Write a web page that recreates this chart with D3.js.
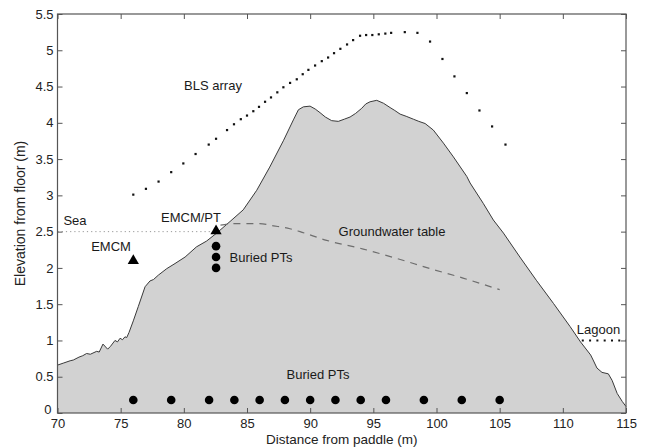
<!DOCTYPE html>
<html>
<head>
<meta charset="utf-8">
<script src="https://cdn.jsdelivr.net/npm/d3@7"></script>
<style>
  html, body { margin: 0; padding: 0; background: #fff; }
  svg { display: block; font-family: "Liberation Sans", Arial, sans-serif; }
</style>
</head>
<body>
<svg id="chart" width="646" height="447"></svg>
<script>
// Beach profile (distance from paddle, elevation from floor)
const profileX = [70, 70.5, 71, 71.25, 71.7, 72, 72.3, 72.6, 73.1, 73.3, 73.6, 73.97, 74.2, 74.55, 74.75, 74.95, 75.15, 75.34, 75.48, 75.66, 76.0, 76.4, 76.93, 77.32, 77.6, 77.98, 78.65, 79.3, 80.1, 81.0, 81.8, 82.6, 83.66, 84.7, 85.77, 86.8, 87.9, 88.67, 89.07, 89.46, 89.99, 90.4, 90.78, 91.2, 91.7, 92.23, 92.7, 93.16, 93.6, 94.08, 94.4, 94.74, 95.27, 95.8, 96.33, 96.7, 97.12, 97.6, 98.17, 98.6, 99.1, 99.75, 100.55, 101.34, 102.4, 102.66, 103.7, 104.5, 105.3, 106.6, 107.9, 109.26, 110.58, 111.4, 112.2, 112.4, 112.7, 113.1, 113.6, 113.9, 114.3, 114.7, 115];
const profileY = [0.66, 0.69, 0.72, 0.73, 0.77, 0.79, 0.82, 0.81, 0.85, 0.84, 0.95, 0.88, 0.92, 1.0, 0.98, 1.03, 1.01, 1.05, 1.04, 1.11, 1.27, 1.47, 1.74, 1.82, 1.84, 1.90, 1.99, 2.06, 2.15, 2.29, 2.37, 2.48, 2.64, 2.80, 3.07, 3.39, 3.76, 4.04, 4.18, 4.22, 4.23, 4.19, 4.14, 4.08, 4.03, 4.02, 4.05, 4.08, 4.13, 4.20, 4.26, 4.29, 4.31, 4.27, 4.21, 4.17, 4.12, 4.09, 4.05, 4.02, 3.99, 3.90, 3.72, 3.53, 3.26, 3.17, 2.89, 2.66, 2.48, 2.15, 1.83, 1.51, 1.19, 0.98, 0.80, 0.73, 0.62, 0.56, 0.54, 0.45, 0.27, 0.16, 0.09];

// BLS array sensor positions
const blsX = [76.0, 77.0, 78.0, 79.0, 79.96, 80.93, 81.97, 82.55, 83.42, 83.97, 84.51, 85.0, 85.5, 85.95, 86.43, 86.9, 87.4, 87.88, 88.41, 88.94, 89.41, 89.86, 90.39, 90.92, 91.42, 91.89, 92.39, 92.92, 93.4, 93.95, 94.43, 94.92, 95.43, 95.95, 96.41, 97.49, 98.49, 99.49, 100.47, 101.42, 102.4, 103.4, 104.4, 105.46];
const blsY = [3.01, 3.09, 3.19, 3.32, 3.44, 3.57, 3.70, 3.78, 3.90, 3.98, 4.05, 4.10, 4.16, 4.22, 4.29, 4.35, 4.42, 4.49, 4.55, 4.60, 4.67, 4.73, 4.79, 4.85, 4.90, 4.96, 5.02, 5.08, 5.14, 5.20, 5.21, 5.21, 5.22, 5.23, 5.24, 5.25, 5.24, 5.12, 4.88, 4.64, 4.41, 4.17, 3.95, 3.70];

// Groundwater table
const gwX = [82.9, 83.9, 85.0, 86.0, 87.1, 88.4, 89.2, 91.3, 94.2, 96.86, 99.5, 102.1, 105.0];
const gwY = [2.59, 2.61, 2.61, 2.61, 2.58, 2.54, 2.50, 2.38, 2.26, 2.13, 1.99, 1.86, 1.70];

// Instruments
const emcmX = [76.0, 82.55];
const emcmY = [2.10, 2.51];
const ptStackX = 82.55;
const ptStackY = [2.30, 2.15, 2.00];
const ptBottomX = [76, 79, 82, 84, 86, 88, 90, 92, 94, 96, 99, 102, 105];
const ptBottomY = 0.18;

// Water levels
const seaLevel = 2.5, seaFrom = 70, seaTo = 82.3;
const lagoonLevel = 1.0, lagoonFrom = 111.5, lagoonTo = 115;

// Axis ticks
const xTicks = [70, 75, 80, 85, 90, 95, 100, 105, 110, 115];
const yTicks = [0, 0.5, 1, 1.5, 2, 2.5, 3, 3.5, 4, 4.5, 5, 5.5];

const svg = d3.select("#chart");
const plotLeft = 57.5, plotRight = 626, plotTop = 14, plotBottom = 413;
const x = d3.scaleLinear().domain([70, 115]).range([plotLeft, plotRight]);
const y = d3.scaleLinear().domain([0, 5.5]).range([plotBottom, plotTop]);

const profile = profileX.map((d, i) => [d, profileY[i]]);

// Shaded beach body
svg.append("path")
  .datum(profile)
  .attr("d", d3.area().x(d => x(d[0])).y0(y(0)).y1(d => y(d[1])))
  .attr("fill", "#d2d2d2");

svg.append("path")
  .datum(profile)
  .attr("d", d3.line().x(d => x(d[0])).y(d => y(d[1])))
  .attr("fill", "none")
  .attr("stroke", "#3a3a3a")
  .attr("stroke-width", 1);

// Sea level (fine grey dots)
svg.append("line")
  .attr("x1", x(seaFrom)).attr("x2", x(seaTo))
  .attr("y1", y(seaLevel)).attr("y2", y(seaLevel))
  .attr("stroke", "#999").attr("stroke-width", 1)
  .attr("stroke-dasharray", "1.2,3");

// Lagoon level (coarse black dots)
svg.append("line")
  .attr("x1", x(lagoonFrom)).attr("x2", x(lagoonTo))
  .attr("y1", y(lagoonLevel)).attr("y2", y(lagoonLevel))
  .attr("stroke", "#111").attr("stroke-width", 2)
  .attr("stroke-dasharray", "2,5.3");

// Groundwater table (dashed)
svg.append("path")
  .datum(gwX.map((d, i) => [d, gwY[i]]))
  .attr("d", d3.line().curve(d3.curveMonotoneX).x(d => x(d[0])).y(d => y(d[1])))
  .attr("fill", "none")
  .attr("stroke", "#6e6e6e")
  .attr("stroke-width", 1.2)
  .attr("stroke-dasharray", "7,6");

// BLS array
svg.append("g").selectAll("rect")
  .data(blsX.map((d, i) => [d, blsY[i]]))
  .join("rect")
  .attr("x", d => x(d[0]) - 1.1)
  .attr("y", d => y(d[1]) - 1.1)
  .attr("width", 2.2).attr("height", 2.2)
  .attr("fill", "#111");

// EMCM triangles
const tri = d3.symbol().type(d3.symbolTriangle).size(55);
svg.append("g").selectAll("path")
  .data(emcmX.map((d, i) => [d, emcmY[i]]))
  .join("path")
  .attr("d", tri)
  .attr("transform", d => `translate(${x(d[0])},${y(d[1])})`)
  .attr("fill", "#000");

// Buried pressure transducers
svg.append("g").selectAll("circle")
  .data(ptStackY.map(v => [ptStackX, v]).concat(ptBottomX.map(v => [v, ptBottomY])))
  .join("circle")
  .attr("cx", d => x(d[0]))
  .attr("cy", d => y(d[1]))
  .attr("r", 4.3)
  .attr("fill", "#000");

// Axes with inward ticks on all four sides
const axisColor = "#555";
function styleAxis(g, showLabels) {
  g.select(".domain").remove();
  g.selectAll(".tick line").attr("stroke", axisColor);
  g.selectAll(".tick text").attr("fill", "#222").style("font-size", "13px");
  if (!showLabels) g.selectAll(".tick text").remove();
}
svg.append("g").attr("transform", `translate(0,${plotBottom})`)
  .call(d3.axisBottom(x).tickValues(xTicks).tickSize(-5).tickPadding(6).tickFormat(d3.format("")))
  .call(g => styleAxis(g, true));
svg.append("g").attr("transform", `translate(0,${plotTop})`)
  .call(d3.axisTop(x).tickValues(xTicks).tickSize(-5))
  .call(g => styleAxis(g, false));
svg.append("g").attr("transform", `translate(${plotLeft},0)`)
  .call(d3.axisLeft(y).tickValues(yTicks).tickSize(-5).tickPadding(4).tickFormat(d3.format("")))
  .call(g => styleAxis(g, true))
  // lift the origin label clear of the first x label
  .call(g => g.selectAll(".tick").filter(d => d === 0).select("text").attr("dy", "0em").attr("dx", "-2"));
svg.append("g").attr("transform", `translate(${plotRight},0)`)
  .call(d3.axisRight(y).tickValues(yTicks).tickSize(-5))
  .call(g => styleAxis(g, false));

svg.append("rect")
  .attr("x", plotLeft).attr("y", plotTop)
  .attr("width", plotRight - plotLeft).attr("height", plotBottom - plotTop)
  .attr("fill", "none").attr("stroke", axisColor).attr("stroke-width", 1.2);

// Axis titles
svg.append("text")
  .attr("x", (plotLeft + plotRight) / 2).attr("y", 444)
  .attr("text-anchor", "middle")
  .attr("fill", "#222").style("font-size", "13.5px")
  .text("Distance from paddle (m)");
svg.append("text")
  .attr("transform", `translate(21,${(plotTop + plotBottom) / 2}) rotate(-90)`)
  .attr("text-anchor", "middle").attr("dominant-baseline", "middle")
  .attr("fill", "#222").style("font-size", "14px")
  .text("Elevation from floor (m)");

// Annotations
const notes = [
  { t: "BLS array", x: 213, y: 87 },
  { t: "Sea", x: 75, y: 222 },
  { t: "EMCM/PT", x: 191, y: 219 },
  { t: "EMCM", x: 111, y: 247.5 },
  { t: "Buried PTs", x: 261, y: 258.5 },
  { t: "Groundwater table", x: 392, y: 232.5 },
  { t: "Buried PTs", x: 318, y: 376 },
  { t: "Lagoon", x: 598.5, y: 331 }
];
svg.append("g").selectAll("text")
  .data(notes)
  .join("text")
  .attr("x", d => d.x).attr("y", d => d.y)
  .attr("text-anchor", "middle").attr("dominant-baseline", "middle")
  .attr("fill", "#1a1a1a").style("font-size", "13px")
  .text(d => d.t);
</script>
</body>
</html>
